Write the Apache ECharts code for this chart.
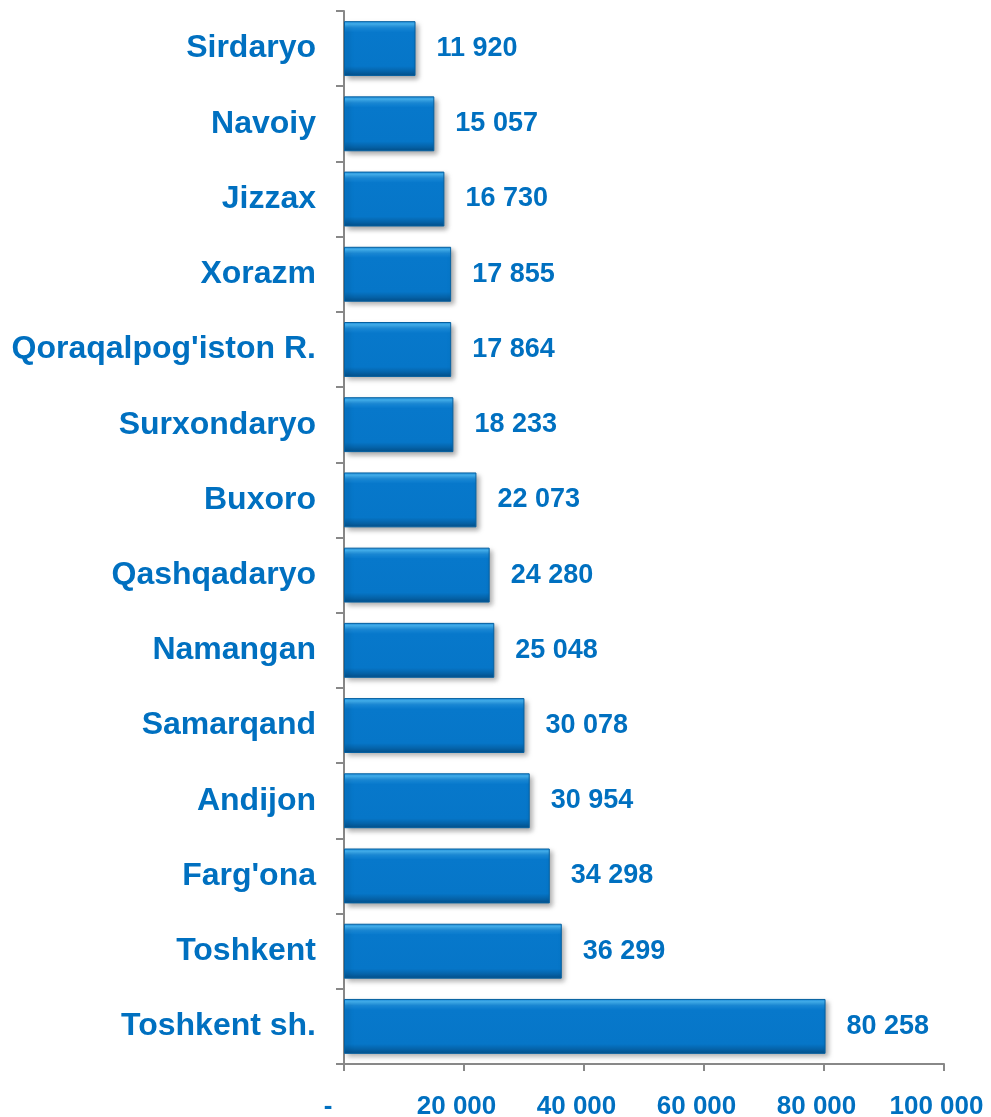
<!DOCTYPE html>
<html>
<head>
<meta charset="utf-8">
<script src="https://cdn.jsdelivr.net/npm/echarts@6/dist/echarts.min.js"></script>
<style>
html,body{margin:0;padding:0;background:#fff;}
#chart{width:991px;height:1117px;}
</style>
</head>
<body>
<div id="chart"></div>
<script>
var regions = ["Sirdaryo","Navoiy","Jizzax","Xorazm","Qoraqalpog'iston R.","Surxondaryo","Buxoro","Qashqadaryo","Namangan","Samarqand","Andijon","Farg'ona","Toshkent","Toshkent sh."];
var values = [11920,15057,16730,17855,17864,18233,22073,24280,25048,30078,30954,34298,36299,80258];
var xTicks = [0,20000,40000,60000,80000,100000];

function fmt(v){
  if (v === 0) return '-';
  return String(v).replace(/\B(?=(\d{3})+(?!\d))/g, ' ');
}
var blue = '#0070C0';
var chart = echarts.init(document.getElementById('chart'), null, {renderer:'canvas'});
chart.setOption({
  animation:false,
  grid:{left:344, right:47, top:11, bottom:53, containLabel:false, outerBoundsMode:'none'},
  xAxis:{
    type:'value', min:xTicks[0], max:xTicks[xTicks.length-1], interval:20000,
    splitLine:{show:false},
    axisLine:{show:true, lineStyle:{color:'#888', width:2}},
    axisTick:{show:true, length:7, lineStyle:{color:'#888', width:2}},
    axisLabel:{
      margin:30,
      color:blue, fontFamily:'Liberation Sans, Arial', fontWeight:'bold', fontSize:26,
      formatter:function(v){ return v===0 ? '{z|-}' : '{n|'+fmt(v)+'}'; },
      rich:{
        z:{color:blue, fontFamily:'Liberation Sans, Arial', fontWeight:'bold', fontSize:26, padding:[0,32,0,0]},
        n:{color:blue, fontFamily:'Liberation Sans, Arial', fontWeight:'bold', fontSize:26, padding:[0,15,0,0]}
      }
    }
  },
  yAxis:{
    type:'category', data:regions, inverse:true,
    axisLine:{show:true, lineStyle:{color:'#888', width:2}},
    axisTick:{show:true, length:8, lineStyle:{color:'#888', width:2}},
    axisLabel:{margin:28, color:blue, fontFamily:'Liberation Sans, Arial', fontWeight:'bold', fontSize:32}
  },
  series:[{
    type:'bar', data:values, barCategoryGap:'27%',
    itemStyle:{
      color:{type:'linear', x:0, y:0, x2:0, y2:1, colorStops:[
        {offset:0, color:'#1C8FE0'},
        {offset:0.05, color:'#45B5F5'},
        {offset:0.12, color:'#1A8AD8'},
        {offset:0.2, color:'#0778CB'},
        {offset:0.82, color:'#0676C8'},
        {offset:0.9, color:'#0566AE'},
        {offset:1, color:'#04508A'}
      ]},
      borderColor:'#0560A0', borderWidth:1,
      shadowColor:'rgba(0,0,0,0.35)', shadowBlur:5, shadowOffsetX:3, shadowOffsetY:3
    },
    label:{
      show:true, position:'right', distance:21,
      color:blue, fontFamily:'Liberation Sans, Arial', fontWeight:'bold', fontSize:27,
      formatter:function(p){ return fmt(p.value); }
    }
  }]
});
</script>
</body>
</html>
